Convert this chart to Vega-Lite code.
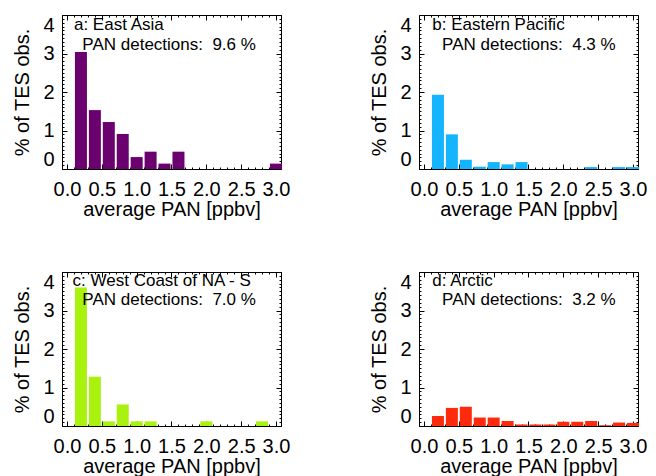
{
  "$schema": "https://vega.github.io/schema/vega-lite/v6.json",
  "padding": {"left": 12, "top": 14, "right": 0, "bottom": 0},
  "background": "white",
  "config": {
    "view": {"stroke": "black", "strokeWidth": 1},
    "font": "Liberation Sans",
    "axis": {
      "grid": false,
      "domain": false,
      "tickColor": "black",
      "tickWidth": 1,
      "labelColor": "black",
      "titleColor": "black",
      "labelFont": "Liberation Sans",
      "titleFont": "Liberation Sans",
      "labelFontSize": 20,
      "titleFontSize": 20,
      "titleFontWeight": "normal",
      "labelOverlap": false,
      "labelBound": false
    },
    "text": {"font": "Liberation Sans", "fontSize": 17, "color": "black", "align": "left", "baseline": "alphabetic"}
  },
  "datasets": {
    "hist_a": [
      {"pan": 0.2, "pct": 3.04}, {"pan": 0.4, "pct": 1.53}, {"pan": 0.6, "pct": 1.22},
      {"pan": 0.8, "pct": 0.91}, {"pan": 1.0, "pct": 0.31}, {"pan": 1.2, "pct": 0.45},
      {"pan": 1.4, "pct": 0.14}, {"pan": 1.6, "pct": 0.45}, {"pan": 3.0, "pct": 0.14}
    ],
    "hist_b": [
      {"pan": 0.2, "pct": 1.93}, {"pan": 0.4, "pct": 0.9}, {"pan": 0.6, "pct": 0.24},
      {"pan": 0.8, "pct": 0.06}, {"pan": 1.0, "pct": 0.18}, {"pan": 1.2, "pct": 0.12},
      {"pan": 1.4, "pct": 0.18}, {"pan": 2.4, "pct": 0.05}, {"pan": 2.8, "pct": 0.05},
      {"pan": 3.0, "pct": 0.05}
    ],
    "hist_c": [
      {"pan": 0.2, "pct": 3.6}, {"pan": 0.4, "pct": 1.28}, {"pan": 0.6, "pct": 0.12},
      {"pan": 0.8, "pct": 0.56}, {"pan": 1.0, "pct": 0.12}, {"pan": 1.2, "pct": 0.12},
      {"pan": 2.0, "pct": 0.12}, {"pan": 2.8, "pct": 0.12}
    ],
    "hist_d": [
      {"pan": 0.2, "pct": 0.26}, {"pan": 0.4, "pct": 0.47}, {"pan": 0.6, "pct": 0.5},
      {"pan": 0.8, "pct": 0.22}, {"pan": 1.0, "pct": 0.22}, {"pan": 1.2, "pct": 0.13},
      {"pan": 1.4, "pct": 0.04}, {"pan": 1.6, "pct": 0.04}, {"pan": 1.8, "pct": 0.04},
      {"pan": 2.0, "pct": 0.11}, {"pan": 2.2, "pct": 0.11}, {"pan": 2.4, "pct": 0.13},
      {"pan": 2.6, "pct": 0.02}, {"pan": 2.8, "pct": 0.09}, {"pan": 3.0, "pct": 0.08}
    ]
  },
  "columns": 2,
  "bounds": "flush",
  "spacing": {"column": 138, "row": 103},
  "concat": [
    {
      "width": 219, "height": 154,
      "data": {"name": "hist_a"},
      "layer": [
        {
          "mark": {"type": "bar", "size": 12, "color": "#6b006f"},
          "encoding": {
            "x": {"field": "pan", "type": "quantitative", "scale": {"domain": [0, 3], "nice": false, "zero": false},
              "axis": {"orient": "bottom", "values": [0, 0.5, 1, 1.5, 2, 2.5, 3], "format": ".1f", "title": "average PAN [ppbv]", "tickSize": -5, "labelPadding": 15, "labelFlush": false, "titlePadding": 0}},
            "y": {"field": "pct", "type": "quantitative", "scale": {"domain": [0, 4], "nice": false},
              "axis": {"orient": "left", "values": [0, 1, 2, 3, 4], "title": "% of TES obs.", "tickSize": -5, "labelPadding": 13, "labelFlush": true, "titlePadding": 10}}
          }
        },
        {
          "mark": {"type": "point", "opacity": 0},
          "encoding": {
            "x": {"field": "pan", "type": "quantitative", "scale": {"domain": [0, 3], "nice": false, "zero": false},
              "axis": {"orient": "bottom", "values": [0,0.1,0.2,0.3,0.4,0.5,0.6,0.7,0.8,0.9,1,1.1,1.2,1.3,1.4,1.5,1.6,1.7,1.8,1.9,2,2.1,2.2,2.3,2.4,2.5,2.6,2.7,2.8,2.9,3], "labels": false, "title": null, "tickSize": -2}},
            "y": {"field": "pct", "type": "quantitative", "scale": {"domain": [0, 4], "nice": false},
              "axis": {"orient": "left", "values": [0,0.1,0.2,0.3,0.4,0.5,0.6,0.7,0.8,0.9,1,1.1,1.2,1.3,1.4,1.5,1.6,1.7,1.8,1.9,2,2.1,2.2,2.3,2.4,2.5,2.6,2.7,2.8,2.9,3,3.1,3.2,3.3,3.4,3.5,3.6,3.7,3.8,3.9,4], "labels": false, "title": null, "tickSize": -2}}
          }
        },
        {
          "mark": {"type": "point", "opacity": 0},
          "encoding": {
            "x": {"field": "pan", "type": "quantitative", "scale": {"domain": [0, 3], "nice": false, "zero": false},
              "axis": {"orient": "top", "values": [0, 0.5, 1, 1.5, 2, 2.5, 3], "labels": false, "title": null, "tickSize": -5}},
            "y": {"field": "pct", "type": "quantitative", "scale": {"domain": [0, 4], "nice": false},
              "axis": {"orient": "right", "values": [0, 1, 2, 3, 4], "labels": false, "title": null, "tickSize": -5}}
          }
        },
        {
          "mark": {"type": "point", "opacity": 0},
          "encoding": {
            "x": {"field": "pan", "type": "quantitative", "scale": {"domain": [0, 3], "nice": false, "zero": false},
              "axis": {"orient": "top", "values": [0,0.1,0.2,0.3,0.4,0.5,0.6,0.7,0.8,0.9,1,1.1,1.2,1.3,1.4,1.5,1.6,1.7,1.8,1.9,2,2.1,2.2,2.3,2.4,2.5,2.6,2.7,2.8,2.9,3], "labels": false, "title": null, "tickSize": -2}},
            "y": {"field": "pct", "type": "quantitative", "scale": {"domain": [0, 4], "nice": false},
              "axis": {"orient": "right", "values": [0,0.1,0.2,0.3,0.4,0.5,0.6,0.7,0.8,0.9,1,1.1,1.2,1.3,1.4,1.5,1.6,1.7,1.8,1.9,2,2.1,2.2,2.3,2.4,2.5,2.6,2.7,2.8,2.9,3,3.1,3.2,3.3,3.4,3.5,3.6,3.7,3.8,3.9,4], "labels": false, "title": null, "tickSize": -2}}
          }
        },
        {
          "data": {"values": [{"label": "a: East Asia", "note": "PAN detections:\u00a0 9.6 %"}]},
          "layer": [
            {"mark": {"type": "text"},
             "encoding": {"x": {"datum": 0.1, "type": "quantitative", "axis": null}, "y": {"datum": 3.6, "type": "quantitative", "axis": null}, "text": {"field": "label"}}},
            {"mark": {"type": "text"},
             "encoding": {"x": {"datum": 0.22, "type": "quantitative", "axis": null}, "y": {"datum": 3.1, "type": "quantitative", "axis": null}, "text": {"field": "note"}}}
          ]
        }
      ],
      "resolve": {"axis": {"x": "independent", "y": "independent"}}
    },
    {
      "width": 219, "height": 154,
      "data": {"name": "hist_b"},
      "layer": [
        {
          "mark": {"type": "bar", "size": 12, "color": "#14b4ff"},
          "encoding": {
            "x": {"field": "pan", "type": "quantitative", "scale": {"domain": [0, 3], "nice": false, "zero": false},
              "axis": {"orient": "bottom", "values": [0, 0.5, 1, 1.5, 2, 2.5, 3], "format": ".1f", "title": "average PAN [ppbv]", "tickSize": -5, "labelPadding": 15, "labelFlush": false, "titlePadding": 0}},
            "y": {"field": "pct", "type": "quantitative", "scale": {"domain": [0, 4], "nice": false},
              "axis": {"orient": "left", "values": [0, 1, 2, 3, 4], "title": "% of TES obs.", "tickSize": -5, "labelPadding": 13, "labelFlush": true, "titlePadding": 10}}
          }
        },
        {
          "mark": {"type": "point", "opacity": 0},
          "encoding": {
            "x": {"field": "pan", "type": "quantitative", "scale": {"domain": [0, 3], "nice": false, "zero": false},
              "axis": {"orient": "bottom", "values": [0,0.1,0.2,0.3,0.4,0.5,0.6,0.7,0.8,0.9,1,1.1,1.2,1.3,1.4,1.5,1.6,1.7,1.8,1.9,2,2.1,2.2,2.3,2.4,2.5,2.6,2.7,2.8,2.9,3], "labels": false, "title": null, "tickSize": -2}},
            "y": {"field": "pct", "type": "quantitative", "scale": {"domain": [0, 4], "nice": false},
              "axis": {"orient": "left", "values": [0,0.1,0.2,0.3,0.4,0.5,0.6,0.7,0.8,0.9,1,1.1,1.2,1.3,1.4,1.5,1.6,1.7,1.8,1.9,2,2.1,2.2,2.3,2.4,2.5,2.6,2.7,2.8,2.9,3,3.1,3.2,3.3,3.4,3.5,3.6,3.7,3.8,3.9,4], "labels": false, "title": null, "tickSize": -2}}
          }
        },
        {
          "mark": {"type": "point", "opacity": 0},
          "encoding": {
            "x": {"field": "pan", "type": "quantitative", "scale": {"domain": [0, 3], "nice": false, "zero": false},
              "axis": {"orient": "top", "values": [0, 0.5, 1, 1.5, 2, 2.5, 3], "labels": false, "title": null, "tickSize": -5}},
            "y": {"field": "pct", "type": "quantitative", "scale": {"domain": [0, 4], "nice": false},
              "axis": {"orient": "right", "values": [0, 1, 2, 3, 4], "labels": false, "title": null, "tickSize": -5}}
          }
        },
        {
          "mark": {"type": "point", "opacity": 0},
          "encoding": {
            "x": {"field": "pan", "type": "quantitative", "scale": {"domain": [0, 3], "nice": false, "zero": false},
              "axis": {"orient": "top", "values": [0,0.1,0.2,0.3,0.4,0.5,0.6,0.7,0.8,0.9,1,1.1,1.2,1.3,1.4,1.5,1.6,1.7,1.8,1.9,2,2.1,2.2,2.3,2.4,2.5,2.6,2.7,2.8,2.9,3], "labels": false, "title": null, "tickSize": -2}},
            "y": {"field": "pct", "type": "quantitative", "scale": {"domain": [0, 4], "nice": false},
              "axis": {"orient": "right", "values": [0,0.1,0.2,0.3,0.4,0.5,0.6,0.7,0.8,0.9,1,1.1,1.2,1.3,1.4,1.5,1.6,1.7,1.8,1.9,2,2.1,2.2,2.3,2.4,2.5,2.6,2.7,2.8,2.9,3,3.1,3.2,3.3,3.4,3.5,3.6,3.7,3.8,3.9,4], "labels": false, "title": null, "tickSize": -2}}
          }
        },
        {
          "data": {"values": [{"label": "b: Eastern Pacific", "note": "PAN detections:\u00a0 4.3 %"}]},
          "layer": [
            {"mark": {"type": "text"},
             "encoding": {"x": {"datum": 0.12, "type": "quantitative", "axis": null}, "y": {"datum": 3.6, "type": "quantitative", "axis": null}, "text": {"field": "label"}}},
            {"mark": {"type": "text"},
             "encoding": {"x": {"datum": 0.26, "type": "quantitative", "axis": null}, "y": {"datum": 3.1, "type": "quantitative", "axis": null}, "text": {"field": "note"}}}
          ]
        }
      ],
      "resolve": {"axis": {"x": "independent", "y": "independent"}}
    },
    {
      "width": 219, "height": 154,
      "data": {"name": "hist_c"},
      "layer": [
        {
          "mark": {"type": "bar", "size": 12, "color": "#a8f20e"},
          "encoding": {
            "x": {"field": "pan", "type": "quantitative", "scale": {"domain": [0, 3], "nice": false, "zero": false},
              "axis": {"orient": "bottom", "values": [0, 0.5, 1, 1.5, 2, 2.5, 3], "format": ".1f", "title": "average PAN [ppbv]", "tickSize": -5, "labelPadding": 15, "labelFlush": false, "titlePadding": 0}},
            "y": {"field": "pct", "type": "quantitative", "scale": {"domain": [0, 4], "nice": false},
              "axis": {"orient": "left", "values": [0, 1, 2, 3, 4], "title": "% of TES obs.", "tickSize": -5, "labelPadding": 13, "labelFlush": true, "titlePadding": 10}}
          }
        },
        {
          "mark": {"type": "point", "opacity": 0},
          "encoding": {
            "x": {"field": "pan", "type": "quantitative", "scale": {"domain": [0, 3], "nice": false, "zero": false},
              "axis": {"orient": "bottom", "values": [0,0.1,0.2,0.3,0.4,0.5,0.6,0.7,0.8,0.9,1,1.1,1.2,1.3,1.4,1.5,1.6,1.7,1.8,1.9,2,2.1,2.2,2.3,2.4,2.5,2.6,2.7,2.8,2.9,3], "labels": false, "title": null, "tickSize": -2}},
            "y": {"field": "pct", "type": "quantitative", "scale": {"domain": [0, 4], "nice": false},
              "axis": {"orient": "left", "values": [0,0.1,0.2,0.3,0.4,0.5,0.6,0.7,0.8,0.9,1,1.1,1.2,1.3,1.4,1.5,1.6,1.7,1.8,1.9,2,2.1,2.2,2.3,2.4,2.5,2.6,2.7,2.8,2.9,3,3.1,3.2,3.3,3.4,3.5,3.6,3.7,3.8,3.9,4], "labels": false, "title": null, "tickSize": -2}}
          }
        },
        {
          "mark": {"type": "point", "opacity": 0},
          "encoding": {
            "x": {"field": "pan", "type": "quantitative", "scale": {"domain": [0, 3], "nice": false, "zero": false},
              "axis": {"orient": "top", "values": [0, 0.5, 1, 1.5, 2, 2.5, 3], "labels": false, "title": null, "tickSize": -5}},
            "y": {"field": "pct", "type": "quantitative", "scale": {"domain": [0, 4], "nice": false},
              "axis": {"orient": "right", "values": [0, 1, 2, 3, 4], "labels": false, "title": null, "tickSize": -5}}
          }
        },
        {
          "mark": {"type": "point", "opacity": 0},
          "encoding": {
            "x": {"field": "pan", "type": "quantitative", "scale": {"domain": [0, 3], "nice": false, "zero": false},
              "axis": {"orient": "top", "values": [0,0.1,0.2,0.3,0.4,0.5,0.6,0.7,0.8,0.9,1,1.1,1.2,1.3,1.4,1.5,1.6,1.7,1.8,1.9,2,2.1,2.2,2.3,2.4,2.5,2.6,2.7,2.8,2.9,3], "labels": false, "title": null, "tickSize": -2}},
            "y": {"field": "pct", "type": "quantitative", "scale": {"domain": [0, 4], "nice": false},
              "axis": {"orient": "right", "values": [0,0.1,0.2,0.3,0.4,0.5,0.6,0.7,0.8,0.9,1,1.1,1.2,1.3,1.4,1.5,1.6,1.7,1.8,1.9,2,2.1,2.2,2.3,2.4,2.5,2.6,2.7,2.8,2.9,3,3.1,3.2,3.3,3.4,3.5,3.6,3.7,3.8,3.9,4], "labels": false, "title": null, "tickSize": -2}}
          }
        },
        {
          "data": {"values": [{"label": "c: West Coast of NA - S", "note": "PAN detections:\u00a0 7.0 %"}]},
          "layer": [
            {"mark": {"type": "text"},
             "encoding": {"x": {"datum": 0.08, "type": "quantitative", "axis": null}, "y": {"datum": 3.63, "type": "quantitative", "axis": null}, "text": {"field": "label"}}},
            {"mark": {"type": "text"},
             "encoding": {"x": {"datum": 0.22, "type": "quantitative", "axis": null}, "y": {"datum": 3.13, "type": "quantitative", "axis": null}, "text": {"field": "note"}}}
          ]
        }
      ],
      "resolve": {"axis": {"x": "independent", "y": "independent"}}
    },
    {
      "width": 219, "height": 154,
      "data": {"name": "hist_d"},
      "layer": [
        {
          "mark": {"type": "bar", "size": 12, "color": "#ff2a0c"},
          "encoding": {
            "x": {"field": "pan", "type": "quantitative", "scale": {"domain": [0, 3], "nice": false, "zero": false},
              "axis": {"orient": "bottom", "values": [0, 0.5, 1, 1.5, 2, 2.5, 3], "format": ".1f", "title": "average PAN [ppbv]", "tickSize": -5, "labelPadding": 15, "labelFlush": false, "titlePadding": 0}},
            "y": {"field": "pct", "type": "quantitative", "scale": {"domain": [0, 4], "nice": false},
              "axis": {"orient": "left", "values": [0, 1, 2, 3, 4], "title": "% of TES obs.", "tickSize": -5, "labelPadding": 13, "labelFlush": true, "titlePadding": 10}}
          }
        },
        {
          "mark": {"type": "point", "opacity": 0},
          "encoding": {
            "x": {"field": "pan", "type": "quantitative", "scale": {"domain": [0, 3], "nice": false, "zero": false},
              "axis": {"orient": "bottom", "values": [0,0.1,0.2,0.3,0.4,0.5,0.6,0.7,0.8,0.9,1,1.1,1.2,1.3,1.4,1.5,1.6,1.7,1.8,1.9,2,2.1,2.2,2.3,2.4,2.5,2.6,2.7,2.8,2.9,3], "labels": false, "title": null, "tickSize": -2}},
            "y": {"field": "pct", "type": "quantitative", "scale": {"domain": [0, 4], "nice": false},
              "axis": {"orient": "left", "values": [0,0.1,0.2,0.3,0.4,0.5,0.6,0.7,0.8,0.9,1,1.1,1.2,1.3,1.4,1.5,1.6,1.7,1.8,1.9,2,2.1,2.2,2.3,2.4,2.5,2.6,2.7,2.8,2.9,3,3.1,3.2,3.3,3.4,3.5,3.6,3.7,3.8,3.9,4], "labels": false, "title": null, "tickSize": -2}}
          }
        },
        {
          "mark": {"type": "point", "opacity": 0},
          "encoding": {
            "x": {"field": "pan", "type": "quantitative", "scale": {"domain": [0, 3], "nice": false, "zero": false},
              "axis": {"orient": "top", "values": [0, 0.5, 1, 1.5, 2, 2.5, 3], "labels": false, "title": null, "tickSize": -5}},
            "y": {"field": "pct", "type": "quantitative", "scale": {"domain": [0, 4], "nice": false},
              "axis": {"orient": "right", "values": [0, 1, 2, 3, 4], "labels": false, "title": null, "tickSize": -5}}
          }
        },
        {
          "mark": {"type": "point", "opacity": 0},
          "encoding": {
            "x": {"field": "pan", "type": "quantitative", "scale": {"domain": [0, 3], "nice": false, "zero": false},
              "axis": {"orient": "top", "values": [0,0.1,0.2,0.3,0.4,0.5,0.6,0.7,0.8,0.9,1,1.1,1.2,1.3,1.4,1.5,1.6,1.7,1.8,1.9,2,2.1,2.2,2.3,2.4,2.5,2.6,2.7,2.8,2.9,3], "labels": false, "title": null, "tickSize": -2}},
            "y": {"field": "pct", "type": "quantitative", "scale": {"domain": [0, 4], "nice": false},
              "axis": {"orient": "right", "values": [0,0.1,0.2,0.3,0.4,0.5,0.6,0.7,0.8,0.9,1,1.1,1.2,1.3,1.4,1.5,1.6,1.7,1.8,1.9,2,2.1,2.2,2.3,2.4,2.5,2.6,2.7,2.8,2.9,3,3.1,3.2,3.3,3.4,3.5,3.6,3.7,3.8,3.9,4], "labels": false, "title": null, "tickSize": -2}}
          }
        },
        {
          "data": {"values": [{"label": "d: Arctic", "note": "PAN detections:\u00a0 3.2 %"}]},
          "layer": [
            {"mark": {"type": "text"},
             "encoding": {"x": {"datum": 0.12, "type": "quantitative", "axis": null}, "y": {"datum": 3.63, "type": "quantitative", "axis": null}, "text": {"field": "label"}}},
            {"mark": {"type": "text"},
             "encoding": {"x": {"datum": 0.26, "type": "quantitative", "axis": null}, "y": {"datum": 3.13, "type": "quantitative", "axis": null}, "text": {"field": "note"}}}
          ]
        }
      ],
      "resolve": {"axis": {"x": "independent", "y": "independent"}}
    }
  ]
}
